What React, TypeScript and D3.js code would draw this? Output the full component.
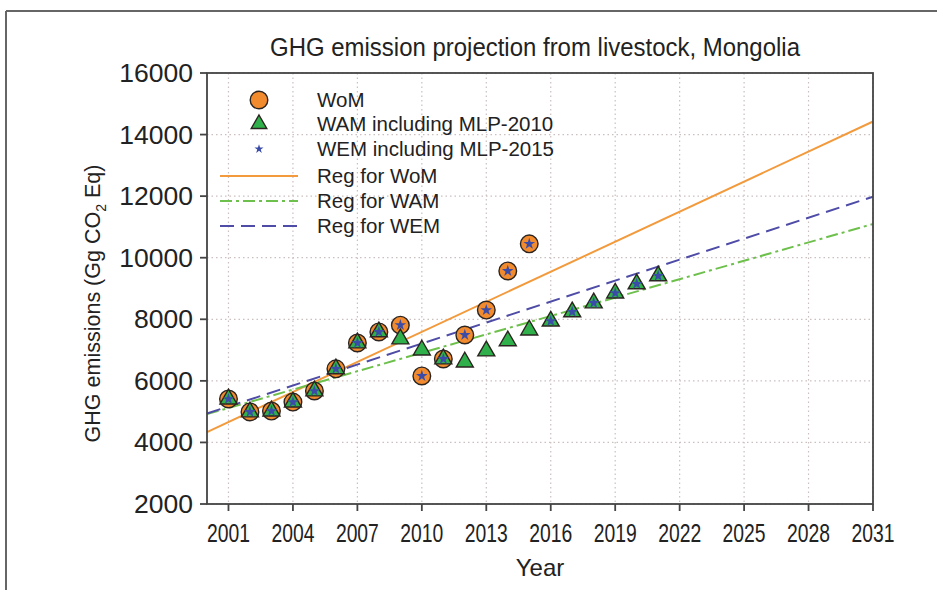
import React from "react";
import * as d3 from "d3";

const years = [2001, 2002, 2003, 2004, 2005, 2006, 2007, 2008, 2009, 2010, 2011, 2012, 2013, 2014, 2015, 2016, 2017, 2018, 2019, 2020, 2021];
const womValues = [5410, 4990, 5020, 5310, 5670, 6390, 7230, 7590, 7810, 6160, 6710, 7490, 8300, 9570, 10450];
const wamValues = [5410, 4990, 5020, 5310, 5670, 6390, 7230, 7590, 7360, 7000, 6710, 6610, 6970, 7300, 7650, 7940, 8240, 8530, 8850, 9150, 9410];
const wemValues = [5410, 4990, 5020, 5310, 5670, 6390, 7230, 7590, 7810, 6160, 6710, 7490, 8300, 9570, 10450, 7940, 8240, 8530, 8850, 9150, 9410];
const xTicks = [2001, 2004, 2007, 2010, 2013, 2016, 2019, 2022, 2025, 2028, 2031];
const yTicks = [2000, 4000, 6000, 8000, 10000, 12000, 14000, 16000];
const legendLabels = ["WoM", "WAM including MLP-2010", "WEM including MLP-2015", "Reg for WoM", "Reg for WAM", "Reg for WEM"];

const W = 937, H = 590;
const M = { left: 207, right: 873, top: 73, bottom: 504 };
const FONT = "'Liberation Sans', Arial, sans-serif";

const ORANGE = "#F28A2E";
const GREEN = "#2FB04A";
const BLUE = "#3A4CA8";
const EDGE = "#2b2420";
const L_ORANGE = "#F29A3C";
const L_GREEN = "#6EC04C";
const L_BLUE = "#4E4CA6";

function fit(xs: number[], ys: number[]) {
  const n = ys.length;
  const xx = xs.slice(0, n);
  const mx = d3.mean(xx) as number;
  const my = d3.mean(ys) as number;
  let sxy = 0, sxx = 0;
  for (let i = 0; i < n; i++) {
    sxy += (xx[i] - mx) * (ys[i] - my);
    sxx += (xx[i] - mx) * (xx[i] - mx);
  }
  const b = sxy / sxx;
  const a = my - b * mx;
  return (x: number) => a + b * x;
}

export default function App() {
  const x = d3.scaleLinear().domain([2000, 2031]).range([M.left, M.right]);
  const y = d3.scaleLinear().domain([2000, 16000]).range([M.bottom, M.top]);

  const circle = d3.symbol().type(d3.symbolCircle).size(Math.PI * 8.8 * 8.8)();
  const tri = d3.symbol().type(d3.symbolTriangle).size(125)();
  const star = d3.symbol().type(d3.symbolStar).size(42)();
  const triSmall = d3.symbol().type(d3.symbolTriangle).size(105)();
  const starSmall = d3.symbol().type(d3.symbolStar).size(26)();

  const regs = [
    { f: fit(years, womValues), color: L_ORANGE, dash: "none" },
    { f: fit(years, wamValues), color: L_GREEN, dash: "12,4,3,4" },
    { f: fit(years, wemValues), color: L_BLUE, dash: "14,7" },
  ];
  const xs = [2000, 2031];
  const line = (f: (v: number) => number) =>
    d3.line<number>().x((d) => x(d)).y((d) => y(f(d)))(xs) as string;

  const legendY = [100, 124, 149, 176, 201, 226];

  return (
    <div style={{ position: "absolute", left: 0, top: 0 }}>
      <svg width={W} height={H} style={{ display: "block", background: "#fff" }} fontFamily={FONT}>
        {/* outer figure frame */}
        <line x1={6} x2={W} y1={11} y2={11} stroke="#666" strokeWidth={2} />
        <line x1={6} x2={6} y1={11} y2={H} stroke="#666" strokeWidth={2} />

        <text x={(M.left + M.right) / 2 - 5} y={56} textAnchor="middle" fontSize={25} fill="#222" textLength={530} lengthAdjust="spacingAndGlyphs">
          GHG emission projection from livestock, Mongolia
        </text>

        {/* grid */}
        {xTicks.map((t) => (
          <line key={"gx" + t} x1={x(t)} x2={x(t)} y1={M.top} y2={M.bottom} stroke="#cbbfbf" strokeWidth={1.2} strokeDasharray="1.5,3" />
        ))}
        {yTicks.map((t) => (
          <line key={"gy" + t} x1={M.left} x2={M.right} y1={y(t)} y2={y(t)} stroke="#cbbfbf" strokeWidth={1.2} strokeDasharray="1.5,3" />
        ))}

        {/* regression lines */}
        <g>
          {regs.map((r, i) => (
            <path key={i} d={line(r.f)} fill="none" stroke={r.color} strokeWidth={2} strokeDasharray={r.dash} />
          ))}
        </g>

        {/* markers */}
        {womValues.map((v, i) => (
          <path key={"c" + i} d={circle} transform={`translate(${x(years[i])},${y(v)})`} fill={ORANGE} stroke={EDGE} strokeWidth={1.4} />
        ))}
        {wamValues.map((v, i) => (
          <path key={"t" + i} d={tri} transform={`translate(${x(years[i])},${y(v)})`} fill={GREEN} stroke={EDGE} strokeWidth={1.4} />
        ))}
        {wemValues.map((v, i) => (
          <path key={"s" + i} d={star} transform={`translate(${x(years[i])},${y(v)})`} fill={BLUE} />
        ))}

        {/* axes frame */}
        <rect x={M.left} y={M.top} width={M.right - M.left} height={M.bottom - M.top} fill="none" stroke="#444" strokeWidth={1.8} />
        {xTicks.map((t) => (
          <g key={"xt" + t}>
            <line x1={x(t)} x2={x(t)} y1={M.bottom} y2={M.bottom + 7} stroke="#444" strokeWidth={1.8} />
            <text x={x(t)} y={M.bottom + 38} textAnchor="middle" fontSize={25} fill="#222" textLength={43} lengthAdjust="spacingAndGlyphs">{t}</text>
          </g>
        ))}
        {yTicks.map((t) => (
          <g key={"yt" + t}>
            <line x1={M.left - 7} x2={M.left} y1={y(t)} y2={y(t)} stroke="#444" strokeWidth={1.8} />
            <text x={M.left - 14} y={y(t) + 9} textAnchor="end" fontSize={26.5} fill="#222">{t}</text>
          </g>
        ))}

        <text x={(M.left + M.right) / 2} y={576} textAnchor="middle" fontSize={24} fill="#222">Year</text>
        <text transform={`translate(100,${(M.top + M.bottom) / 2 + 15}) rotate(-90)`} textAnchor="middle" fontSize={21.5} fill="#222">
          GHG emissions (Gg CO<tspan fontSize={14} dy={6}>2</tspan><tspan dy={-6}> Eq)</tspan>
        </text>

        {/* legend */}
        <g>
          <path d={circle} transform={`translate(259,${legendY[0]})`} fill={ORANGE} stroke={EDGE} strokeWidth={1.4} />
          <path d={triSmall} transform={`translate(259,${legendY[1]})`} fill={GREEN} stroke={EDGE} strokeWidth={1.4} />
          <path d={starSmall} transform={`translate(259,${legendY[2]})`} fill={BLUE} />
          <line x1={220} x2={298} y1={legendY[3]} y2={legendY[3]} stroke={L_ORANGE} strokeWidth={2} />
          <line x1={220} x2={298} y1={legendY[4]} y2={legendY[4]} stroke={L_GREEN} strokeWidth={2} strokeDasharray="12,4,3,4" />
          <line x1={220} x2={298} y1={legendY[5]} y2={legendY[5]} stroke={L_BLUE} strokeWidth={2} strokeDasharray="14,7" />
          {legendLabels.map((l, i) => (
            <text key={l} x={317} y={legendY[i] + 7} fontSize={20.5} fill="#222">{l}</text>
          ))}
        </g>
      </svg>
    </div>
  );
}
